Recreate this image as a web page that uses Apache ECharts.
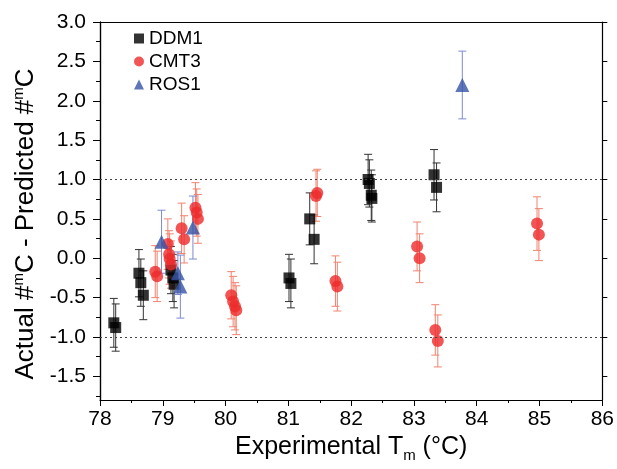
<!DOCTYPE html>
<html>
<head>
<meta charset="utf-8">
<script src="https://cdn.jsdelivr.net/npm/echarts@6/dist/echarts.min.js"></script>
<style>html,body{margin:0;padding:0;background:#fff}#c{width:617px;height:469px}</style>
</head>
<body>
<div id="c"></div>
<script>
// ---- data ----
var ddm1X = [78.22, 78.25, 78.62, 78.65, 78.69, 79.13, 79.16, 79.18, 81.01, 81.04, 81.34, 81.41, 82.27, 82.29, 82.32, 82.33, 83.32, 83.36];
var ddm1Y = [-0.82, -0.88, -0.19, -0.31, -0.47, -0.15, -0.25, -0.33, -0.25, -0.32, 0.50, 0.24, 1.00, 0.95, 0.80, 0.76, 1.06, 0.90];
var ddm1Err = [0.31, 0.30, 0.30, 0.30, 0.31, 0.30, 0.30, 0.30, 0.30, 0.31, 0.33, 0.31, 0.32, 0.30, 0.32, 0.30, 0.32, 0.31];

var cmt3X = [78.88, 78.91, 79.08, 79.10, 79.11, 79.13, 79.30, 79.34, 79.52, 79.54, 79.56, 80.09, 80.12, 80.15, 80.17, 81.44, 81.46, 81.75, 81.78, 83.05, 83.09, 83.34, 83.38, 84.96, 84.99];
var cmt3Y = [-0.17, -0.23, 0.18, 0.05, -0.01, -0.08, 0.38, 0.24, 0.64, 0.58, 0.50, -0.47, -0.55, -0.61, -0.66, 0.79, 0.83, -0.29, -0.36, 0.15, 0.00, -0.91, -1.05, 0.44, 0.30];
var cmt3Err = [0.33, 0.32, 0.32, 0.30, 0.32, 0.30, 0.32, 0.30, 0.32, 0.30, 0.31, 0.30, 0.32, 0.30, 0.31, 0.32, 0.30, 0.32, 0.31, 0.31, 0.31, 0.32, 0.33, 0.34, 0.33];

var ros1X = [78.98, 79.24, 79.28, 79.48, 83.77];
var ros1Y = [0.21, -0.19, -0.36, 0.39, 2.20];
var ros1Err = [0.40, 0.27, 0.40, 0.40, 0.43];

var xTicks = [78, 79, 80, 81, 82, 83, 84, 85, 86];
var yTicks = [-1.5, -1.0, -0.5, 0.0, 0.5, 1.0, 1.5, 2.0, 2.5, 3.0];
var yMinorTicks = [-1.75, -1.25, -0.75, -0.25, 0.25, 0.75, 1.25, 1.75, 2.25, 2.75];
var refLines = [1.0, -1.0];

function pts(xs, ys) { return xs.map(function (x, i) { return [x, ys[i]]; }); }
function errPts(xs, ys, es) { return xs.map(function (x, i) { return [x, ys[i], es[i]]; }); }

function errSeries(name, data, color) {
  return {
    name: name, type: 'custom', data: data, z: 1, silent: true,
    encode: { x: 0, y: 1 },
    renderItem: function (params, api) {
      var x = api.value(0), y = api.value(1), e = api.value(2);
      var hi = api.coord([x, y + e]);
      var lo = api.coord([x, y - e]);
      var w = 4;
      var st = { stroke: color, lineWidth: 1 };
      return {
        type: 'group',
        children: [
          { type: 'line', shape: { x1: hi[0], y1: hi[1], x2: lo[0], y2: lo[1] }, style: st },
          { type: 'line', shape: { x1: hi[0] - w, y1: hi[1], x2: hi[0] + w, y2: hi[1] }, style: st },
          { type: 'line', shape: { x1: lo[0] - w, y1: lo[1], x2: lo[0] + w, y2: lo[1] }, style: st }
        ]
      };
    }
  };
}

var FONT = '"Liberation Sans", Arial, sans-serif';
var chart = echarts.init(document.getElementById('c'));
chart.setOption({
  animation: false,
  backgroundColor: '#fff',
  grid: { left: 100, right: 12, top: 22, bottom: 69 },
  legend: {
    data: [
      { name: 'DDM1', icon: 'rect' },
      { name: 'CMT3', icon: 'circle' },
      { name: 'ROS1', icon: 'triangle' }
    ],
    orient: 'vertical', left: 129, top: 24, itemWidth: 10, itemHeight: 10, itemGap: 4,
    textStyle: { fontFamily: FONT, fontSize: 19, color: '#000' }
  },
  xAxis: [{
    type: 'value', min: 78, max: 86, interval: 1,
    axisLine: { onZero: false, lineStyle: { color: '#000', width: 1.2 } },
    axisTick: { inside: false, length: 6, lineStyle: { color: '#000' } },
    minorTick: { show: true, splitNumber: 2, length: 3, lineStyle: { color: '#000' } },
    splitLine: { show: false },
    axisLabel: { fontFamily: FONT, fontSize: 21, color: '#000', margin: 9 },
    name: 'Experimental T{sub|m} (°C)', nameLocation: 'middle', nameGap: 25,
    nameTextStyle: { fontFamily: FONT, fontSize: 25, color: '#000',
      rich: { sub: { fontFamily: FONT, fontSize: 15, color: '#000', verticalAlign: 'bottom', padding: [16, 0, 0, 0] } } }
  }, {
    type: 'value', min: 78, max: 86, position: 'top',
    axisLine: { show: true, onZero: false, lineStyle: { color: '#000', width: 1.2 } },
    axisTick: { show: false }, axisLabel: { show: false }, splitLine: { show: false }
  }],
  yAxis: [{
    type: 'value', min: -1.8, max: 3.0,
    axisLine: { show: true, onZero: false, lineStyle: { color: '#000', width: 1.2 } },
    axisTick: { show: true, inside: false, length: 7, customValues: yTicks, lineStyle: { color: '#000' } },
    splitLine: { show: false },
    axisLabel: { customValues: yTicks, fontFamily: FONT, fontSize: 21, color: '#000', margin: 14,
      formatter: function (v) { return v.toFixed(1); } },
    name: 'Actual #{sup|m}C - Predicted #{sup|m}C', nameLocation: 'middle', nameGap: 59,
    nameTextStyle: { fontFamily: FONT, fontSize: 26, color: '#000', padding: [0, 26, 0, 0],
      rich: { sup: { fontFamily: FONT, fontSize: 15, color: '#000', verticalAlign: 'top', padding: [0, 0, 14, 0] } } }
  }, {
    type: 'value', min: -1.8, max: 3.0, position: 'left',
    axisLine: { show: true, onZero: false, lineStyle: { color: '#000', width: 1.2 } },
    axisTick: { show: true, inside: false, length: 4, customValues: yMinorTicks, lineStyle: { color: '#000' } },
    axisLabel: { show: false }, splitLine: { show: false }
  }, {
    type: 'value', min: -1.8, max: 3.0, position: 'right',
    axisLine: { show: true, onZero: false, lineStyle: { color: '#000', width: 1.2 } },
    axisTick: { show: true, inside: false, length: 5, customValues: yTicks, lineStyle: { color: '#000' } },
    axisLabel: { show: false }, splitLine: { show: false }
  }],
  series: [
    errSeries('ddm1err', errPts(ddm1X, ddm1Y, ddm1Err), '#333333'),
    errSeries('cmt3err', errPts(cmt3X, cmt3Y, cmt3Err), '#f2836f'),
    errSeries('ros1err', errPts(ros1X, ros1Y, ros1Err), '#7d8ad0'),
    {
      name: 'DDM1', type: 'scatter', data: pts(ddm1X, ddm1Y), symbol: 'rect', symbolSize: 11, z: 3,
      itemStyle: { color: '#000' },
      markLine: {
        silent: true, symbol: 'none', label: { show: false },
        lineStyle: { color: '#444', type: [2, 3], width: 1.2 },
        data: refLines.map(function (v) { return { yAxis: v }; })
      }
    },
    { name: 'CMT3', type: 'scatter', data: pts(cmt3X, cmt3Y), symbol: 'circle', symbolSize: 12, z: 4,
      itemStyle: { color: '#ee2b2b' } },
    { name: 'ROS1', type: 'scatter', data: pts(ros1X, ros1Y), symbol: 'triangle', symbolSize: 14, z: 5,
      itemStyle: { color: '#3653a6' } }
  ]
});
</script>
</body>
</html>
